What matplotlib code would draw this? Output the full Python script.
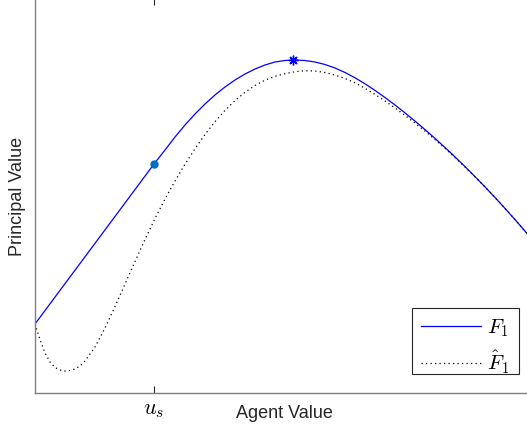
import matplotlib.pyplot as plt
from matplotlib.patches import Rectangle

plt.rcParams['mathtext.fontset'] = 'cm'
plt.rcParams['font.family'] = 'Liberation Sans'

# F_1 (blue solid)
f1_x = [0.00, 1.19, 1.30, 1.40, 1.50, 1.60, 1.70, 1.80, 1.90, 2.00, 2.10, 2.20,
        2.30, 2.40, 2.50, 2.60, 2.70, 2.80, 2.90, 3.00, 3.10, 3.20, 3.30, 3.40,
        3.50, 3.60, 3.70, 3.80, 3.90, 4.00, 4.10, 4.20, 4.30, 4.40, 4.50, 4.60,
        4.70, 4.80, 4.90, 5.00, 5.10]
f1_y = [0.69, 2.29, 2.43, 2.56, 2.68, 2.79, 2.89, 2.98, 3.06, 3.13, 3.19, 3.24,
        3.28, 3.31, 3.325, 3.33, 3.325, 3.31, 3.285, 3.25, 3.205, 3.152, 3.092, 3.026,
        2.955, 2.88, 2.801, 2.719, 2.634, 2.546, 2.455, 2.361, 2.264, 2.164, 2.061, 1.955,
        1.846, 1.734, 1.619, 1.501, 1.38]

# F_1 hat (black dotted)
fh_x = [0.00, 0.05, 0.10, 0.15, 0.20, 0.25, 0.30, 0.35, 0.40, 0.45, 0.50, 0.60,
        0.70, 0.80, 0.90, 1.00, 1.10, 1.20, 1.30, 1.40, 1.50, 1.60, 1.70, 1.80,
        1.90, 2.00, 2.10, 2.20, 2.30, 2.40, 2.50, 2.60, 2.70, 2.80, 2.90, 3.00,
        3.10, 3.20, 3.30, 3.40, 3.50, 3.60, 3.70, 3.80, 3.90, 4.00, 4.10, 4.20,
        4.30, 4.40, 4.50, 4.60, 4.70, 4.80, 4.90, 5.00, 5.10]
fh_y = [0.69, 0.535, 0.40, 0.31, 0.255, 0.23, 0.22, 0.225, 0.24, 0.27, 0.32, 0.46,
        0.65, 0.865, 1.09, 1.315, 1.535, 1.745, 1.94, 2.12, 2.288, 2.443, 2.585, 2.713,
        2.826, 2.924, 3.007, 3.075, 3.128, 3.167, 3.193, 3.213, 3.223, 3.22, 3.205, 3.18,
        3.145, 3.102, 3.047, 2.986, 2.92, 2.85, 2.776, 2.699, 2.619, 2.534, 2.446, 2.355,
        2.26, 2.162, 2.061, 1.955, 1.846, 1.734, 1.619, 1.501, 1.38]

# special points
us_x, us_y = 1.19, 2.29
peak_x, peak_y = 2.58, 3.33
xtick_pos = [us_x]
xtick_labels = ['$u_s$']

fig = plt.figure(figsize=(5.27, 4.29), dpi=100)
ax = fig.add_axes([35/527, 36/429, 510/527, 395/429])

ax.plot(f1_x, f1_y, color='blue', lw=0.9, label='$F_1$')
ax.plot(fh_x, fh_y, color='black', lw=0.9, linestyle=(0, (1, 2.6)), label=r'$\hat{F}_1$')
ax.plot([us_x], [us_y], 'o', color='#0072BD', markersize=5)
ax.plot([peak_x], [peak_y], marker=(8, 2, 0), color='blue', markersize=7, mew=1)

ax.set_xlim(0, 5.10)
ax.set_ylim(0, 3.95)
ax.set_xticks(xtick_pos)
ax.set_xticklabels(xtick_labels, fontsize=16)
ax.set_yticks([])
ax.tick_params(axis='x', direction='in', length=5, width=0.8, top=True,
               color='#262626', pad=4)
for s in ax.spines.values():
    s.set_color('#808080')
    s.set_linewidth(1.0)

fig.text(17.5/527, 1 - 196/429, 'Principal Value', rotation=90, ha='center',
         va='center', fontsize=13, color='#262626')
fig.text(284/527, 1 - 413/429, 'Agent Value', ha='center', va='center',
         fontsize=13, color='#262626')

# legend entries without frame, box drawn separately underneath
leg = ax.legend(loc='lower left', bbox_to_anchor=(412/527, 1 - 385/429),
                bbox_transform=fig.transFigure, fontsize=15, frameon=False,
                handlelength=2.85, handletextpad=0.3, borderpad=0.45,
                labelspacing=0.45, borderaxespad=0)
leg.set_zorder(10)
box = Rectangle((412/527, 1 - 374/429), 107/527, 66/429, transform=fig.transFigure,
                facecolor='white', edgecolor='#262626', lw=0.8, zorder=9,
                clip_on=False)
ax.add_patch(box)

fig.savefig('out.png', dpi=100)
